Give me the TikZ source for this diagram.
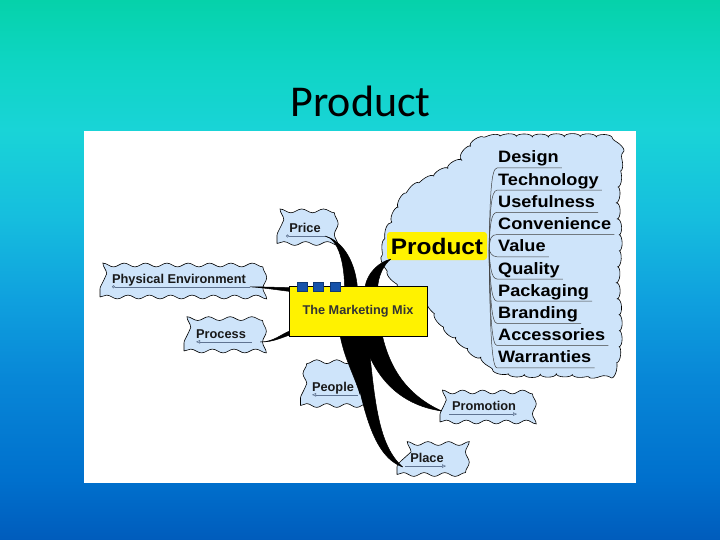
\documentclass[tikz,border=0pt]{standalone}
\usepackage{fontspec}
\usepackage{graphicx}
\setmainfont{Liberation Sans}
\newfontfamily\titlefont{Carlito}
\usetikzlibrary{calc,decorations.pathmorphing,arrows.meta}
\definecolor{bgA}{RGB}{0,92,188}
\definecolor{bgB}{RGB}{0,112,205}
\definecolor{bgC}{RGB}{8,135,215}
\definecolor{bgD}{RGB}{15,160,222}
\definecolor{bgE}{RGB}{22,190,222}
\definecolor{bgF}{RGB}{25,212,215}
\definecolor{bgG}{RGB}{14,213,195}
\definecolor{bgH}{RGB}{5,210,170}
\pgfdeclareverticalshading{slidebg}{100bp}{color(0bp)=(bgA); color(25bp)=(bgA); color(30.6bp)=(bgB); color(40bp)=(bgC); color(47.2bp)=(bgD); color(55bp)=(bgE); color(63bp)=(bgF); color(69.4bp)=(bgG); color(75bp)=(bgH); color(100bp)=(bgH)}
\definecolor{cloudblue}{RGB}{206,228,250}
\definecolor{sqblue}{RGB}{22,82,170}
\definecolor{ulgray}{RGB}{95,115,145}
\newcommand{\wider}[2]{\scalebox{#1}[1]{#2}}
\pgfdeclarelayer{back}
\pgfdeclarelayer{front}
\pgfsetlayers{back,main,front}
\begin{document}
\begin{tikzpicture}[x=1pt,y=-1pt,
  tag/.style={draw=black, line width=0.6pt, fill=cloudblue, decorate,
    decoration={snake, segment length=#1, amplitude=1.9pt},
    font=\bfseries\fontsize{12.8}{14}\selectfont, text=black!90, inner sep=0pt},
  item/.style={font=\bfseries\fontsize{16.5}{18}\selectfont, inner sep=0pt, anchor=base west},
  fanline/.style={draw=black!75, line width=0.5pt},
  tagline/.style={draw=ulgray, line width=0.6pt},
  wedge/.style={fill=black, draw=black, line width=0.5pt, line join=round},
  sq/.style={fill=sqblue, draw=sqblue!70!black, line width=0.4pt, minimum width=10pt, minimum height=9pt, inner sep=0pt},
]
\useasboundingbox (0,0) rectangle (720,540);
\begin{pgfonlayer}{back}
\shade[shading=slidebg] (0,0) rectangle (720,540);
\fill[white] (84,131) rectangle (636,483);
\filldraw[fill=cloudblue, draw=black, line width=0.6pt, decorate,
  decoration={bumps, segment length=32pt, amplitude=3pt}]
  plot[smooth cycle, tension=0.7] coordinates {(385,250) (392,222) (408,194) (438,174) (458,161) (470,146) (493,138) (540,137) (590,137) (611,141) (619,160) (617,200) (619,240) (617,280) (619,320) (617,355) (605,372) (560,374) (510,373) (487,362) (466,346) (446,328) (430,306) (405,289) (389,270)};
\end{pgfonlayer}

% title
\node[font=\titlefont\fontsize{44}{50}\selectfont, anchor=base, text=black, inner sep=0pt] (title) at (360.5,117) {Product};

% product node and list
\node[fill=yellow, rounded corners=3pt, minimum width=100pt, minimum height=28pt, inner sep=0pt,
  font=\bfseries\fontsize{22.4}{24}\selectfont] (prod) at (437,246) {\wider{1.09}{Product}};
\coordinate (fan) at (489,250);
\foreach \t [count=\i from 0] in {Design,Technology,Usefulness,Convenience,Value,Quality,Packaging,Branding,Accessories,Warranties}{
  \pgfmathsetmacro{\yy}{163+22.2*\i}
  \pgfmathsetmacro{\dy}{250-\yy}
  \node[item] (it\i) at (498,\yy) {\wider{1.1}{\t}};
  \draw[fanline] (fan) .. controls +(1,{-0.6*\dy}) and +(-6,0) .. ($(it\i.base west)+(-1,5)$) -- ($(it\i.base east)+(3,5)$);
}

% marketing mix box (front layer)
\begin{pgfonlayer}{front}
\node[draw=black, line width=0.8pt, fill=yellow, minimum width=138pt, minimum height=50pt, inner sep=0pt,
  font=\bfseries\fontsize{12.7}{14}\selectfont, text=black!80] (mix) at (358,311) {The Marketing Mix};
\node[sq] (sq1) at (302,286.5) {};
\node[sq] (sq2) at (318,286.5) {};
\node[sq] (sq3) at (335.5,286.5) {};
\end{pgfonlayer}

% tags
\node[tag=21.75pt, minimum width=56pt, minimum height=31pt] (price) at (305,228) {Price};
\node[tag=21.333pt, minimum width=158pt, minimum height=34pt] (pe) at (179,280) {Physical Environment};
\node[tag=21.6pt, minimum width=74pt, minimum height=34pt] (proc) at (221,334) {Process};
\node[tag=20pt, minimum width=65pt, minimum height=35pt] (people) at (333,388) {People};
\node[tag=20pt, minimum width=88pt, minimum height=32pt] (promo) at (484,406) {Promotion};
\node[tag=20.667pt, minimum width=60pt, minimum height=33pt] (place) at (427,458) {Place};

% tag underlines
\draw[tagline, {Circle[open,length=3pt]}-] ($(price.base)+(-19,3.5)$) -- ($(price.base)+(20,3.5)$);
\draw[tagline, {Circle[open,length=3pt]}-] ($(pe.base)+(-67,3.5)$) -- ($(pe.base)+(71,3.5)$);
\draw[tagline, {Triangle[open,length=4pt,width=3.5pt]}-] ($(proc.base)+(-25,3.5)$) -- ($(proc.base)+(31,3.5)$);
\draw[tagline, {Triangle[open,length=4pt,width=3.5pt]}-] ($(people.base)+(-21,3.5)$) -- ($(people.base)+(25,3.5)$);
\draw[tagline, -{Triangle[open,length=4pt,width=3.5pt]}] ($(promo.base)+(-35,3.5)$) -- ($(promo.base)+(33,3.5)$);
\draw[tagline, -{Triangle[open,length=4pt,width=3.5pt]}] ($(place.base)+(-22,3.5)$) -- ($(place.base)+(19,3.5)$);

% connector end points
\coordinate (priceT) at ($(price.base)+(20,3.5)$);
\coordinate (peT) at ($(pe.base)+(71,3.5)$);
\coordinate (procT) at ($(proc.east)+(2,8)$);
\coordinate (peopleT) at ($(people.base)+(27,3)$);
\coordinate (promoT) at ($(promo.west)+(2,5)$);
\coordinate (placeT) at ($(place.west)+(6,9)$);
\coordinate (prodT) at ($(prod.south west)+(4,-1)$);
\coordinate (mPriceL) at ($(mix.north west)+(56,4)$);
\coordinate (mPriceR) at ($(mix.north west)+(69,4)$);
\coordinate (mProdL) at ($(mix.north west)+(76,4)$);
\coordinate (mProdR) at ($(mix.north west)+(89,4)$);
\coordinate (mPeoL) at ($(mix.south west)+(51,-4)$);
\coordinate (mPeoR) at ($(mix.south west)+(67,-4)$);
\coordinate (mPlaL) at ($(mix.south west)+(59,-4)$);
\coordinate (mPlaR) at ($(mix.south west)+(79,-4)$);
\coordinate (mProL) at ($(mix.south west)+(73,-4)$);
\coordinate (mProR) at ($(mix.south west)+(93,-4)$);
\coordinate (mPeA) at ($(mix.north west)+(3,2)$);
\coordinate (mPeB) at ($(mix.north west)+(3,6)$);
\coordinate (mPrA) at ($(mix.south west)+(3,-6)$);
\coordinate (mPrB) at ($(mix.south west)+(3,-2)$);

% tapered connectors
\filldraw[wedge] (priceT) .. controls +(14,3) and +(0,-25) .. (mPriceL) -- (mPriceR) .. controls +(-2,-28) and +(18,5) .. (priceT) -- cycle;
\filldraw[wedge] (prodT) .. controls +(-10,2) and +(2,-18) .. (mProdL) -- (mProdR) .. controls +(0,-14) and +(-6,4) .. (prodT) -- cycle;
\filldraw[wedge] (mPeoL) .. controls +(4,25) and +(-6,-20) .. (peopleT) .. controls +(-2,-25) and +(0,20) .. (mPeoR) -- cycle;
\filldraw[wedge] (mPlaL) .. controls +(14,68) and +(-33,-12) .. (placeT) .. controls +(-25,-22) and +(7,68) .. (mPlaR) -- cycle;
\filldraw[wedge] (mProL) .. controls +(10,43) and +(-43,-6) .. (promoT) .. controls +(-33,-15) and +(8,38) .. (mProR) -- cycle;
\filldraw[wedge] (peT) .. controls +(15,0) and +(-10,0) .. (mPeA) -- (mPeB) .. controls +(-10,-1) and +(15,1) .. (peT) -- cycle;
\filldraw[wedge] (procT) .. controls +(14,0) and +(-10,3) .. (mPrA) -- (mPrB) .. controls +(-10,3) and +(14,0) .. (procT) -- cycle;
\end{tikzpicture}
\end{document}
